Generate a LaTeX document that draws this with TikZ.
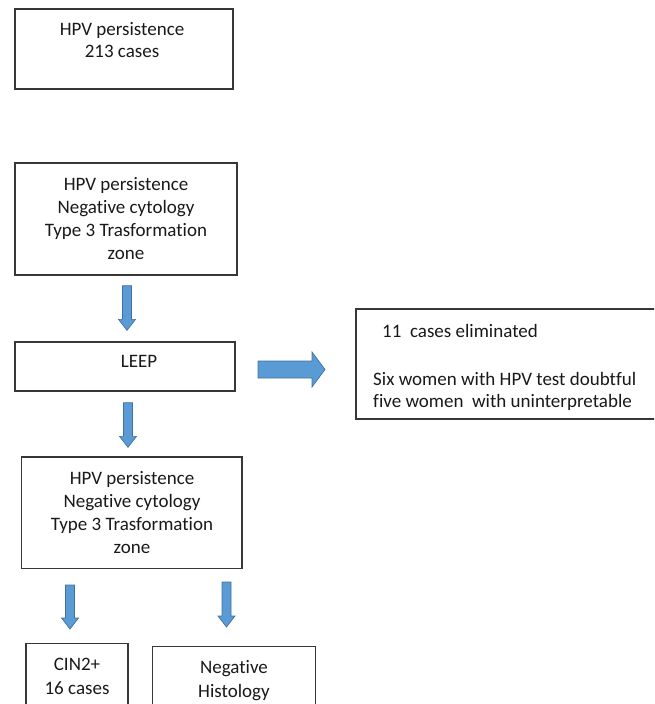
\documentclass[tikz,border=0pt]{standalone}
\usepackage{fontspec}
\setmainfont[Ligatures={NoCommon}]{Carlito}
\usetikzlibrary{calc}
\definecolor{arrowfill}{RGB}{91,155,213}
\definecolor{arrowedge}{RGB}{65,113,156}
\definecolor{boxline}{RGB}{55,55,55}
\definecolor{txtcol}{RGB}{25,25,25}
% downward block arrow between two named coordinates
\newcommand\blockdown[2]{%
  \filldraw[blockarrow] let \p1=(#1), \p2=(#2) in
    (\x1-4.5pt,\y1) -- (\x1+4.5pt,\y1) -- (\x1+4.5pt,\y2+11pt) --
    (\x1+8.5pt,\y2+11pt) -- (\x2,\y2) -- (\x1-8.5pt,\y2+11pt) --
    (\x1-4.5pt,\y2+11pt) -- cycle;}
% rightward block arrow between two named coordinates
\newcommand\blockright[2]{%
  \filldraw[blockarrow] let \p1=(#1), \p2=(#2) in
    (\x1,\y1+8.5pt) -- (\x2-13pt,\y1+8.5pt) -- (\x2-13pt,\y1+17.5pt) --
    (\x2,\y2) -- (\x2-13pt,\y1-17.5pt) -- (\x2-13pt,\y1-8.5pt) --
    (\x1,\y1-8.5pt) -- cycle;}
\begin{document}
\begin{tikzpicture}[x=1pt,y=-1pt,
  box/.style={draw=boxline, line width=1.3pt, inner sep=0pt},
  blockarrow/.style={fill=arrowfill, draw=arrowedge, line width=0.7pt, line join=miter},
  txt/.style={text=txtcol, inner sep=0pt, align=center, font=\fontsize{19}{23}\selectfont},
  txtl/.style={text=txtcol, inner sep=0pt, anchor=base west, font=\fontsize{19}{23}\selectfont}]
\useasboundingbox (0,0) rectangle (654,704);
\clip (0,0) rectangle (654,704);
% boxes
\node[box, minimum width=218pt, minimum height=80pt]   (b1)   at (124,49) {};
\node[box, minimum width=222pt, minimum height=112pt]  (b2)   at (126,219) {};
\node[box, minimum width=220pt, minimum height=49pt]   (leep) at (125,366.5) {};
\node[box, minimum width=304pt, minimum height=110pt]  (elim) at (508,364) {};
\node[box, minimum width=220.5pt, minimum height=111.5pt] (b4) at (131.75,512.75) {};
\node[box, minimum width=102pt, minimum height=76.5pt] (cin)  at (77,681.75) {};
\node[box, minimum width=163pt, minimum height=73.5pt] (neg)  at (234,683.25) {};
% texts
\node[txt, anchor=north, font=\fontsize{19}{22}\selectfont] (t1) at (122,21)
  {\rule{0pt}{14pt}HPV persistence\\213 cases};
\node[txt, anchor=north] (t2) at (126,176)
  {\rule{0pt}{14pt}HPV persistence\\Negative cytology\\Type 3 Trasformation\\zone};
\node[txt, anchor=base] (tl) at (139,367) {LEEP};
\node[txtl] (te1) at (382,337) {11\ \ cases eliminated};
\node[txtl] (te2) at (373,385) {Six women with HPV test doubtful};
\node[txtl] (te3) at (373,407) {five women\ \ with uninterpretable};
\node[txt, anchor=north] (t4) at (132,470)
  {\rule{0pt}{14pt}HPV persistence\\Negative cytology\\Type 3 Trasformation\\zone};
\node[txt, anchor=north, font=\fontsize{19}{24}\selectfont] (tc) at (77,656)
  {\rule{0pt}{14pt}CIN2+\\16 cases};
\node[txt, anchor=north, font=\fontsize{19}{24}\selectfont] (tn) at (234,659)
  {\rule{0pt}{14pt}Negative\\Histology};
% connector end points
\coordinate (a1s) at ($(b2.south)+(1,10)$);
\coordinate (a1e) at ($(leep.north)+(2,-11)$);
\coordinate (a2s) at ($(leep.south)+(3,11)$);
\coordinate (a2e) at ($(b4.north)+(-3.75,-9)$);
\coordinate (a3s) at (70,585);
\coordinate (a3e) at (70,629);
\coordinate (a4s) at (226.5,582);
\coordinate (a4e) at (226.5,627);
\coordinate (a5s) at (258,369.5);
\coordinate (a5e) at (325,369.5);
% block arrows
\blockdown{a1s}{a1e}
\blockdown{a2s}{a2e}
\blockdown{a3s}{a3e}
\blockdown{a4s}{a4e}
\blockright{a5s}{a5e}
\end{tikzpicture}
\end{document}
